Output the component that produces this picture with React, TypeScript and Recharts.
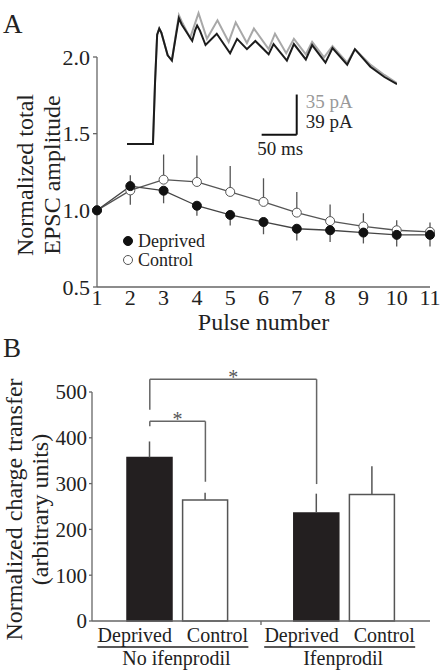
import {
  LineChart,
  Line,
  XAxis,
  YAxis,
  ErrorBar,
  Legend,
  BarChart,
  Bar,
  Cell,
  ReferenceLine,
} from 'recharts';

const FONT = 'Liberation Serif, DejaVu Serif, serif';
const INK = '#222';
const AXIS = '#666';

// Panel A: normalized total EPSC amplitude across the train
const pulses = [1, 2, 3, 4, 5, 6, 7, 8, 9, 10, 11];
const ampTicks = [0.5, 1.0, 1.5, 2.0];
const deprivedAmp = [1.0, 1.158, 1.128, 1.03, 0.97, 0.924, 0.88, 0.87, 0.855, 0.84, 0.84];
const deprivedErrUp = [0, 0.071, 0, 0, 0, 0, 0, 0, 0, 0, 0];
const deprivedErrDown = [0, 0, 0.082, 0.065, 0.069, 0.08, 0.076, 0.076, 0.071, 0.076, 0.076];
const controlAmp = [1.0, 1.13, 1.2, 1.185, 1.12, 1.055, 0.985, 0.93, 0.895, 0.87, 0.86];
const controlErrUp = [0, 0, 0.164, 0.173, 0.169, 0.154, 0.134, 0.108, 0.086, 0.065, 0.061];
const controlErrDown = [0, 0.093, 0, 0, 0, 0, 0, 0, 0, 0, 0];

// example EPSC traces (ms, pA above baseline)
const deprivedTraceMs = [0, 37, 40, 43, 46, 49, 58, 64, 70, 74, 78, 93, 97, 100, 104, 112, 128, 147, 157, 171, 183, 202, 209, 228, 238, 255, 264, 283, 293, 314, 325, 347, 367, 385];
const deprivedTracePa = [0, 0, 60, 106, 112, 108, 86, 81, 106, 122, 116, 100, 110, 115, 110, 96, 107, 88, 102, 92, 100, 87, 97, 81, 97, 82, 96, 79, 93, 77, 92, 75, 65, 58];
const controlTraceMs = [0, 37, 40, 43, 46, 49, 58, 64, 70, 74, 78, 90, 102, 114, 129, 145, 155, 171, 181, 202, 211, 227, 238, 255, 264, 281, 293, 314, 325, 347, 367, 385];
const controlTracePa = [0, 0, 60, 106, 112, 108, 86, 81, 108, 125, 119, 103, 127, 102, 120, 99, 118, 98, 112, 92, 107, 88, 102, 87, 99, 84, 95, 79, 92, 77, 67, 59];

// Panel B: charge transfer
const barKeys = ['nd', 'nc', 'gap', 'id', 'ic'];
const barLabels = ['Deprived', 'Control', '', 'Deprived', 'Control'];
const chargeTransfer = [357, 264, null, 236, 276];
const chargeErr = [35, 16, null, 42, 62];
const groupLabels = ['No ifenprodil', 'Ifenprodil'];
const chargeTicks = [0, 100, 200, 300, 400, 500];

// significance brackets: [from, to, top, left leg bottom, right leg bottom]
const brackets: [string, string, number, number, number][] = [
  ['nd', 'id', 528, 461, 299],
  ['nd', 'nc', 436, 425, 304],
];

const pulseData = pulses.map((p, i) => ({
  pulse: p,
  deprived: deprivedAmp[i],
  control: controlAmp[i],
  deprivedErr: [deprivedErrDown[i], deprivedErrUp[i]],
  controlErr: [controlErrDown[i], controlErrUp[i]],
}));

const deprivedTrace = deprivedTraceMs.map((t, i) => ({ t, i: deprivedTracePa[i] }));
const controlTrace = controlTraceMs.map((t, i) => ({ t, i: controlTracePa[i] }));

const chargeData = barKeys.map((k, i) => ({
  key: k,
  charge: chargeTransfer[i],
  err: chargeErr[i] == null ? null : [0, chargeErr[i]],
}));

const textStyle = { fontFamily: FONT, fill: INK, style: { fontFamily: FONT } };
const tickFont = (size: number) => ({ fontFamily: FONT, fontSize: size, fill: INK, style: { fontFamily: FONT } });

const twoLineTitle = (lines: string[], xs: number[]) => (props: any) => {
  const { viewBox } = props;
  const cy = viewBox.y + viewBox.height / 2 + 3;
  return (
    <g>
      {lines.map((l, i) => (
        <text
          key={l}
          x={xs[i]}
          y={cy}
          transform={`rotate(-90 ${xs[i]} ${cy})`}
          textAnchor="middle"
          fontSize={24}
          {...textStyle}
        >
          {l}
        </text>
      ))}
    </g>
  );
};

const pulseLegend = () => (
  <svg width={110} height={42}>
    <circle cx={10} cy={12} r={4.5} fill="#111" stroke="#111" />
    <text x={20} y={18} fontSize={18} {...textStyle}>Deprived</text>
    <circle cx={10} cy={31} r={4.5} fill="#fff" stroke="#555" strokeWidth={1} />
    <text x={20} y={37} fontSize={18} {...textStyle}>Control</text>
  </svg>
);

const scaleBarLabel = (props: any) => {
  const { viewBox } = props;
  return (
    <g fontSize={19}>
      <text x={viewBox.x + 9} y={viewBox.y + 13.5} {...textStyle} fill="#999">35 pA</text>
      <text x={viewBox.x + 9} y={viewBox.y + 33.5} {...textStyle}>39 pA</text>
    </g>
  );
};

const timeBarLabel = (props: any) => {
  const { viewBox } = props;
  return (
    <text x={viewBox.x + viewBox.width / 2 + 1} y={viewBox.y + 20} textAnchor="middle" fontSize={19} {...textStyle}>
      50 ms
    </text>
  );
};

const starLabel = (props: any) => {
  const { viewBox } = props;
  return (
    <text x={viewBox.x + viewBox.width / 2} y={viewBox.y + 5} textAnchor="middle" fontSize={20} {...textStyle} fill="#555">
      *
    </text>
  );
};

const ConditionTick = (props: any) => {
  const { x, y, payload } = props;
  const i = barKeys.indexOf(payload.value);
  if (payload.value === 'gap') {
    return <line x1={x} x2={x} y1={y} y2={y + 4} stroke={AXIS} strokeWidth={1.3} />;
  }
  const label = barLabels[i];
  const isControl = label === 'Control';
  return (
    <g>
      <text x={x + (isControl ? 12 : -15)} y={y + 20.5} textAnchor="middle" fontSize={20} {...textStyle}>
        {label}
      </text>
      {isControl && (
        <g>
          <line x1={x - 108} x2={x + 43} y1={y + 26} y2={y + 26} stroke={INK} strokeWidth={1.4} />
          <text x={x - 29} y={y + 44} textAnchor="middle" fontSize={20} {...textStyle}>
            {groupLabels[i < 2 ? 0 : 1]}
          </text>
        </g>
      )}
    </g>
  );
};

export default function App() {
  return (
    <div style={{ position: 'absolute', left: 0, top: 0, width: 444, height: 672, background: '#fff', fontFamily: FONT }}>
      <svg width={444} height={672} style={{ position: 'absolute', left: 0, top: 0 }}>
        <text x={3} y={33} fontSize={27} {...textStyle}>A</text>
        <text x={3} y={357} fontSize={27} {...textStyle}>B</text>
      </svg>

      <div style={{ position: 'absolute', left: 0, top: 0 }}>
        <LineChart width={444} height={340} data={pulseData} margin={{ top: 57, right: 14, bottom: 23, left: 0 }}>
          <XAxis
            dataKey="pulse"
            type="number"
            domain={[1, 11]}
            ticks={pulses}
            interval={0}
            height={30}
            stroke={AXIS}
            strokeWidth={1.3}
            tickSize={2}
            tickMargin={0}
            tickLine={false}
            tick={tickFont(22)}
            label={(props: any) => (
              <text
                x={props.viewBox.x + props.viewBox.width / 2}
                y={props.viewBox.y + 42.5}
                textAnchor="middle"
                fontSize={24}
                {...textStyle}
              >
                Pulse number
              </text>
            )}
          />
          <YAxis
            type="number"
            domain={[0.5, 2.0]}
            ticks={ampTicks}
            width={97}
            stroke={AXIS}
            strokeWidth={1.3}
            tickSize={4}
            tickMargin={3}
            tickFormatter={(v: number) => v.toFixed(1)}
            tick={tickFont(22)}
            label={twoLineTitle(['Normalized total', 'EPSC amplitude'], [33, 60])}
          />
          <Legend
            layout="horizontal"
            verticalAlign="middle"
            align="center"
            content={pulseLegend}
            wrapperStyle={{ position: 'absolute', left: 118, top: 229, width: 110, height: 42 }}
          />
          <Line
            name="Control"
            dataKey="control"
            type="linear"
            stroke="#555"
            strokeWidth={1.3}
            dot={{ r: 4.5, fill: '#fff', stroke: '#555', strokeWidth: 1 }}
            isAnimationActive={false}
          >
            <ErrorBar dataKey="controlErr" direction="y" width={0} stroke="#555" strokeWidth={1.3} />
          </Line>
          <Line
            name="Deprived"
            dataKey="deprived"
            type="linear"
            stroke="#444"
            strokeWidth={1.3}
            dot={{ r: 4.5, fill: '#111', stroke: '#111', strokeWidth: 1 }}
            isAnimationActive={false}
          >
            <ErrorBar dataKey="deprivedErr" direction="y" width={0} stroke="#555" strokeWidth={1.3} />
          </Line>
        </LineChart>
      </div>

      {/* sample traces with scale bars */}
      <div style={{ position: 'absolute', left: 127, top: 10 }}>
        <LineChart width={270} height={150} margin={{ top: 0, right: 0, bottom: 16, left: 0 }}>
          <XAxis dataKey="t" type="number" domain={[0, 385]} hide />
          <YAxis type="number" domain={[0, 130]} hide />
          <Line data={controlTrace} dataKey="i" type="linear" stroke="#a8a8a8" strokeWidth={2} dot={false} isAnimationActive={false} />
          <Line data={deprivedTrace} dataKey="i" type="linear" stroke="#1c1c1c" strokeWidth={2} dot={false} isAnimationActive={false} />
          <ReferenceLine
            segment={[{ x: 242, y: 9 }, { x: 242, y: 48 }]}
            stroke="#111"
            strokeWidth={2}
            ifOverflow="visible"
            label={scaleBarLabel}
          />
          <ReferenceLine
            segment={[{ x: 192, y: 9 }, { x: 242, y: 9 }]}
            stroke="#111"
            strokeWidth={2}
            ifOverflow="visible"
            label={timeBarLabel}
          />
        </LineChart>
      </div>

      <div style={{ position: 'absolute', left: 0, top: 341 }}>
        <BarChart width={444} height={331} data={chargeData} margin={{ top: 51, right: 14, bottom: 0, left: 0 }}>
          <XAxis
            dataKey="key"
            height={51}
            interval={0}
            padding={{ left: 30, right: 30 }}
            stroke={AXIS}
            strokeWidth={1.3}
            tickLine={false}
            tickSize={0}
            tickMargin={0}
            tick={<ConditionTick />}
          />
          <YAxis
            type="number"
            domain={[0, 500]}
            ticks={chargeTicks}
            width={92}
            stroke={AXIS}
            strokeWidth={1.3}
            tickSize={3}
            tickMargin={2}
            tick={tickFont(21)}
            label={twoLineTitle(['Normalized charge transfer', '(arbitrary units)'], [22, 48])}
          />
          <Bar dataKey="charge" barSize={45} isAnimationActive={false}>
            {chargeData.map((d, i) => (
              <Cell
                key={d.key}
                fill={barLabels[i] === 'Deprived' ? '#231f20' : '#fff'}
                stroke={barLabels[i] === 'Deprived' ? '#231f20' : '#555'}
                strokeWidth={1.5}
              />
            ))}
            <ErrorBar dataKey="err" direction="y" width={0} stroke="#555" strokeWidth={1.5} />
          </Bar>
          {brackets.map(([from, to, top, legA, legB]) => (
            <g key={from + to}>
              <ReferenceLine segment={[{ x: from, y: legA }, { x: from, y: top }]} stroke="#666" strokeWidth={1.5} ifOverflow="visible" />
              <ReferenceLine segment={[{ x: from, y: top }, { x: to, y: top }]} stroke="#666" strokeWidth={1.5} ifOverflow="visible" label={starLabel} />
              <ReferenceLine segment={[{ x: to, y: top }, { x: to, y: legB }]} stroke="#666" strokeWidth={1.5} ifOverflow="visible" />
            </g>
          ))}
        </BarChart>
      </div>
    </div>
  );
}
